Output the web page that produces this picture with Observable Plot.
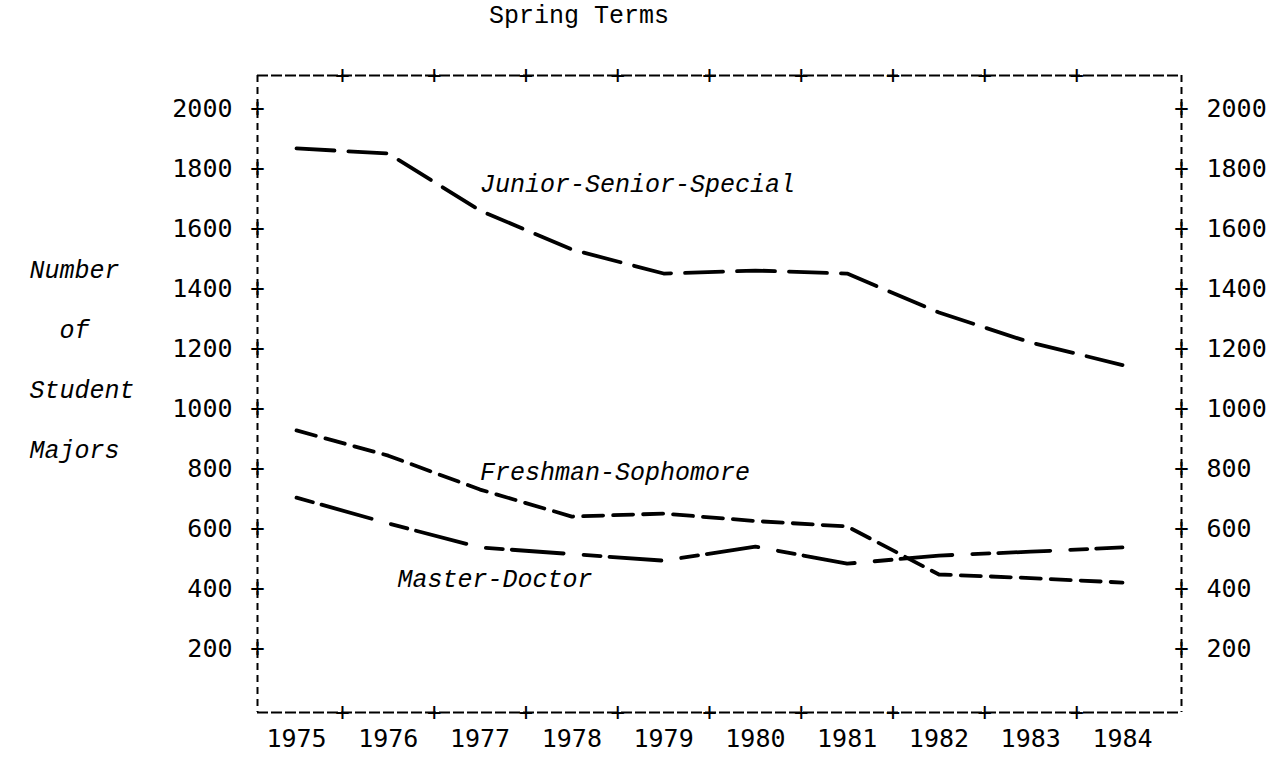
<!DOCTYPE html>
<html><head><meta charset="utf-8">
<script src="https://cdn.jsdelivr.net/npm/d3@7"></script>
<script src="https://cdn.jsdelivr.net/npm/@observablehq/plot@0.6"></script>
<style>
body{margin:0;background:#fff;}
#title{height:40px;position:relative;font-family:"Liberation Mono",monospace;font-size:25px;color:#000;}
#title span{position:absolute;left:579px;top:16px;transform:translate(-50%,-50%);white-space:pre;}
</style></head><body>
<div id="title"><span>Spring Terms</span></div>
<div id="chart"></div>
<script>
// ---- data ----
const years = [1975, 1976, 1977, 1978, 1979, 1980, 1981, 1982, 1983, 1984];
const juniorSeniorSpecial = [1867, 1850, 1660, 1530, 1450, 1460, 1450, 1320, 1220, 1145];
const freshmanSophomore = [927, 843, 730, 640, 650, 625, 607, 447, 435, 420];
const masterDoctor = [703, 617, 537, 515, 493, 540, 483, 510, 523, 537];
const yTickValues = [200, 400, 600, 800, 1000, 1200, 1400, 1600, 1800, 2000];
const borderTickYears = [1975.5, 1976.5, 1977.5, 1978.5, 1979.5, 1980.5, 1981.5, 1982.5, 1983.5];
const seriesNames = ["Junior-Senior-Special", "Freshman-Sophomore", "Master-Doctor"];
const labelYears = [1977, 1977, 1976.1];
const labelValues = [1750, 787, 433];
const yAxisLabel = "Number\n\u00a0\u00a0of\nStudent\nMajors";

// ---- build tables ----
const dashes = {
  "Junior-Senior-Special": "38,14",
  "Freshman-Sophomore": "20,10",
  "Master-Doctor": "17,9,52,20"
};
const seriesValues = [juniorSeniorSpecial, freshmanSophomore, masterDoctor];
const labels = seriesNames.map((name, i) => ({name, x: labelYears[i], y: labelValues[i]}));

const xDom = [1974.575, 1984.643];
const yDom = [-13, 2110];

const lineMarks = seriesNames.map((name, s) =>
  Plot.line(years.map((yr, i) => ({year: yr, value: seriesValues[s][i]})), {
    x: "year", y: "value", stroke: "black", strokeWidth: 3.8,
    strokeDasharray: dashes[name], curve: "linear"
  })
);

const plusOpts = {text: () => "+", textAnchor: "middle", lineAnchor: "middle",
  fontFamily: "DejaVu Sans Mono", fontSize: 24, fill: "black"};

const chart = Plot.plot({
  width: 1281, height: 717,
  marginLeft: 257, marginRight: 100, marginTop: 35, marginBottom: 45,
  style: {fontFamily: "DejaVu Sans Mono", fontSize: "25px", color: "black", background: "white"},
  x: {type: "linear", domain: xDom, axis: null},
  y: {type: "linear", domain: yDom, axis: null},
  marks: [
    Plot.ruleY([yDom[0], yDom[1]], {stroke: "black", strokeWidth: 2, strokeDasharray: "11,3"}),
    Plot.ruleX([xDom[0], xDom[1]], {stroke: "black", strokeWidth: 2, strokeDasharray: "7,5"}),
    Plot.text(yTickValues, {y: d => d, frameAnchor: "left", ...plusOpts}),
    Plot.text(yTickValues, {y: d => d, frameAnchor: "right", ...plusOpts}),
    Plot.text(borderTickYears, {x: d => d, frameAnchor: "top", ...plusOpts}),
    Plot.text(borderTickYears, {x: d => d, frameAnchor: "bottom", ...plusOpts}),
    Plot.axisY(yTickValues, {anchor: "left", tickSize: 0, tickPadding: 25, label: null, tickFormat: d => String(d), fontSize: 25}),
    Plot.axisY(yTickValues, {anchor: "right", tickSize: 0, tickPadding: 25, label: null, tickFormat: d => String(d), fontSize: 25}),
    Plot.axisX(years, {anchor: "bottom", tickSize: 0, tickPadding: 17, label: null, tickFormat: d => String(d), fontSize: 25}),
    ...lineMarks,
    Plot.text(labels, {x: "x", y: "y", text: "name", textAnchor: "start", lineAnchor: "middle",
      fontFamily: "Liberation Mono", fontStyle: "italic", fontSize: 25, fill: "black"}),
    Plot.text([yAxisLabel], {text: d => d, frameAnchor: "left", dx: -228, dy: -45,
      textAnchor: "start", lineAnchor: "middle", lineHeight: 2.4,
      fontFamily: "Liberation Mono", fontStyle: "italic", fontSize: 25, fill: "black"})
  ]
});
document.getElementById("chart").appendChild(chart);
</script>
</body></html>
